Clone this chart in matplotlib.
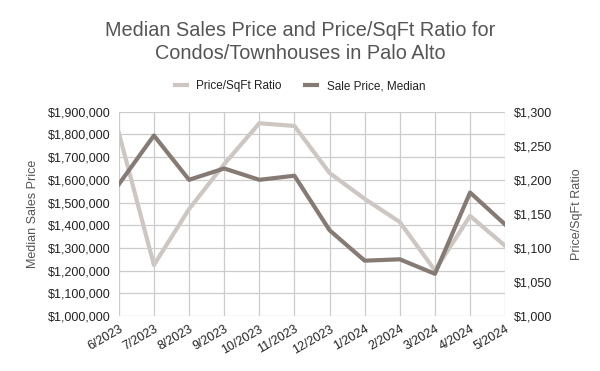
import matplotlib.pyplot as plt
from matplotlib.ticker import FuncFormatter

plt.rcParams['font.family'] = ['Liberation Sans', 'DejaVu Sans']

# data
months = ["6/2023", "7/2023", "8/2023", "9/2023", "10/2023", "11/2023",
          "12/2023", "1/2024", "2/2024", "3/2024", "4/2024", "5/2024"]
sale_price = [1580000, 1795000, 1600000, 1650000, 1600000, 1618000,
              1378000, 1244000, 1250000, 1186000, 1544000, 1403000]
price_sqft = [1269, 1075, 1157, 1223, 1283, 1279,
              1210, 1172, 1138, 1067, 1147, 1103]

light = "#cdc6c2"
dark = "#857b74"
grid_c = "#cccccc"
text_c = "#555555"

fig = plt.figure(figsize=(6, 3.71), dpi=100)
ax = fig.add_axes([0.198, 0.148, 0.644, 0.551])
ax2 = ax.twinx()

x = list(range(len(months)))
l1, = ax2.plot(x, price_sqft, color=light, lw=3, label="Price/SqFt Ratio", zorder=2)
l2, = ax.plot(x, sale_price, color=dark, lw=3, label="Sale Price, Median", zorder=3)
ax.set_zorder(ax2.get_zorder() + 1)
ax.patch.set_visible(False)

ax.set_xlim(0, len(months) - 1)
ax.set_ylim(1000000, 1900000)
ax.set_yticks(range(1000000, 1900001, 100000))
ax2.set_ylim(1000, 1300)
ax2.set_yticks(range(1000, 1301, 50))

ax.yaxis.set_major_formatter(FuncFormatter(lambda v, p: f"${v:,.0f}"))
ax2.yaxis.set_major_formatter(FuncFormatter(lambda v, p: f"${v:,.0f}"))

ax.set_xticks(x)
ax.set_xticklabels(months, rotation=30, ha="right", rotation_mode="anchor")
ax.grid(True, color=grid_c, lw=0.9)
ax.set_axisbelow(True)

for a in (ax, ax2):
    for s in a.spines.values():
        s.set_visible(False)
    a.tick_params(length=0, labelsize=9, colors="#222222")
ax.tick_params(axis="x", pad=5)
ax.tick_params(axis="y", pad=6)
ax2.tick_params(axis="y", pad=6)

ax.set_ylabel("Median Sales Price", color=text_c, fontsize=9, labelpad=6)
ax2.set_ylabel("Price/SqFt Ratio", color=text_c, fontsize=9, rotation=90, labelpad=14)

fig.text(0.5, 0.886, "Median Sales Price and Price/SqFt Ratio for\nCondos/Townhouses in Palo Alto",
         ha="center", va="center", fontsize=14.3, color=text_c, linespacing=1.25)

fig.legend(handles=[l1, l2], loc="center", bbox_to_anchor=(0.5, 0.768), ncol=2,
           frameon=False, fontsize=8.5, handlelength=1.0, handleheight=0.4,
           columnspacing=2.0, handletextpad=0.8, labelcolor="#222222")

fig.savefig("out.png", dpi=100)
